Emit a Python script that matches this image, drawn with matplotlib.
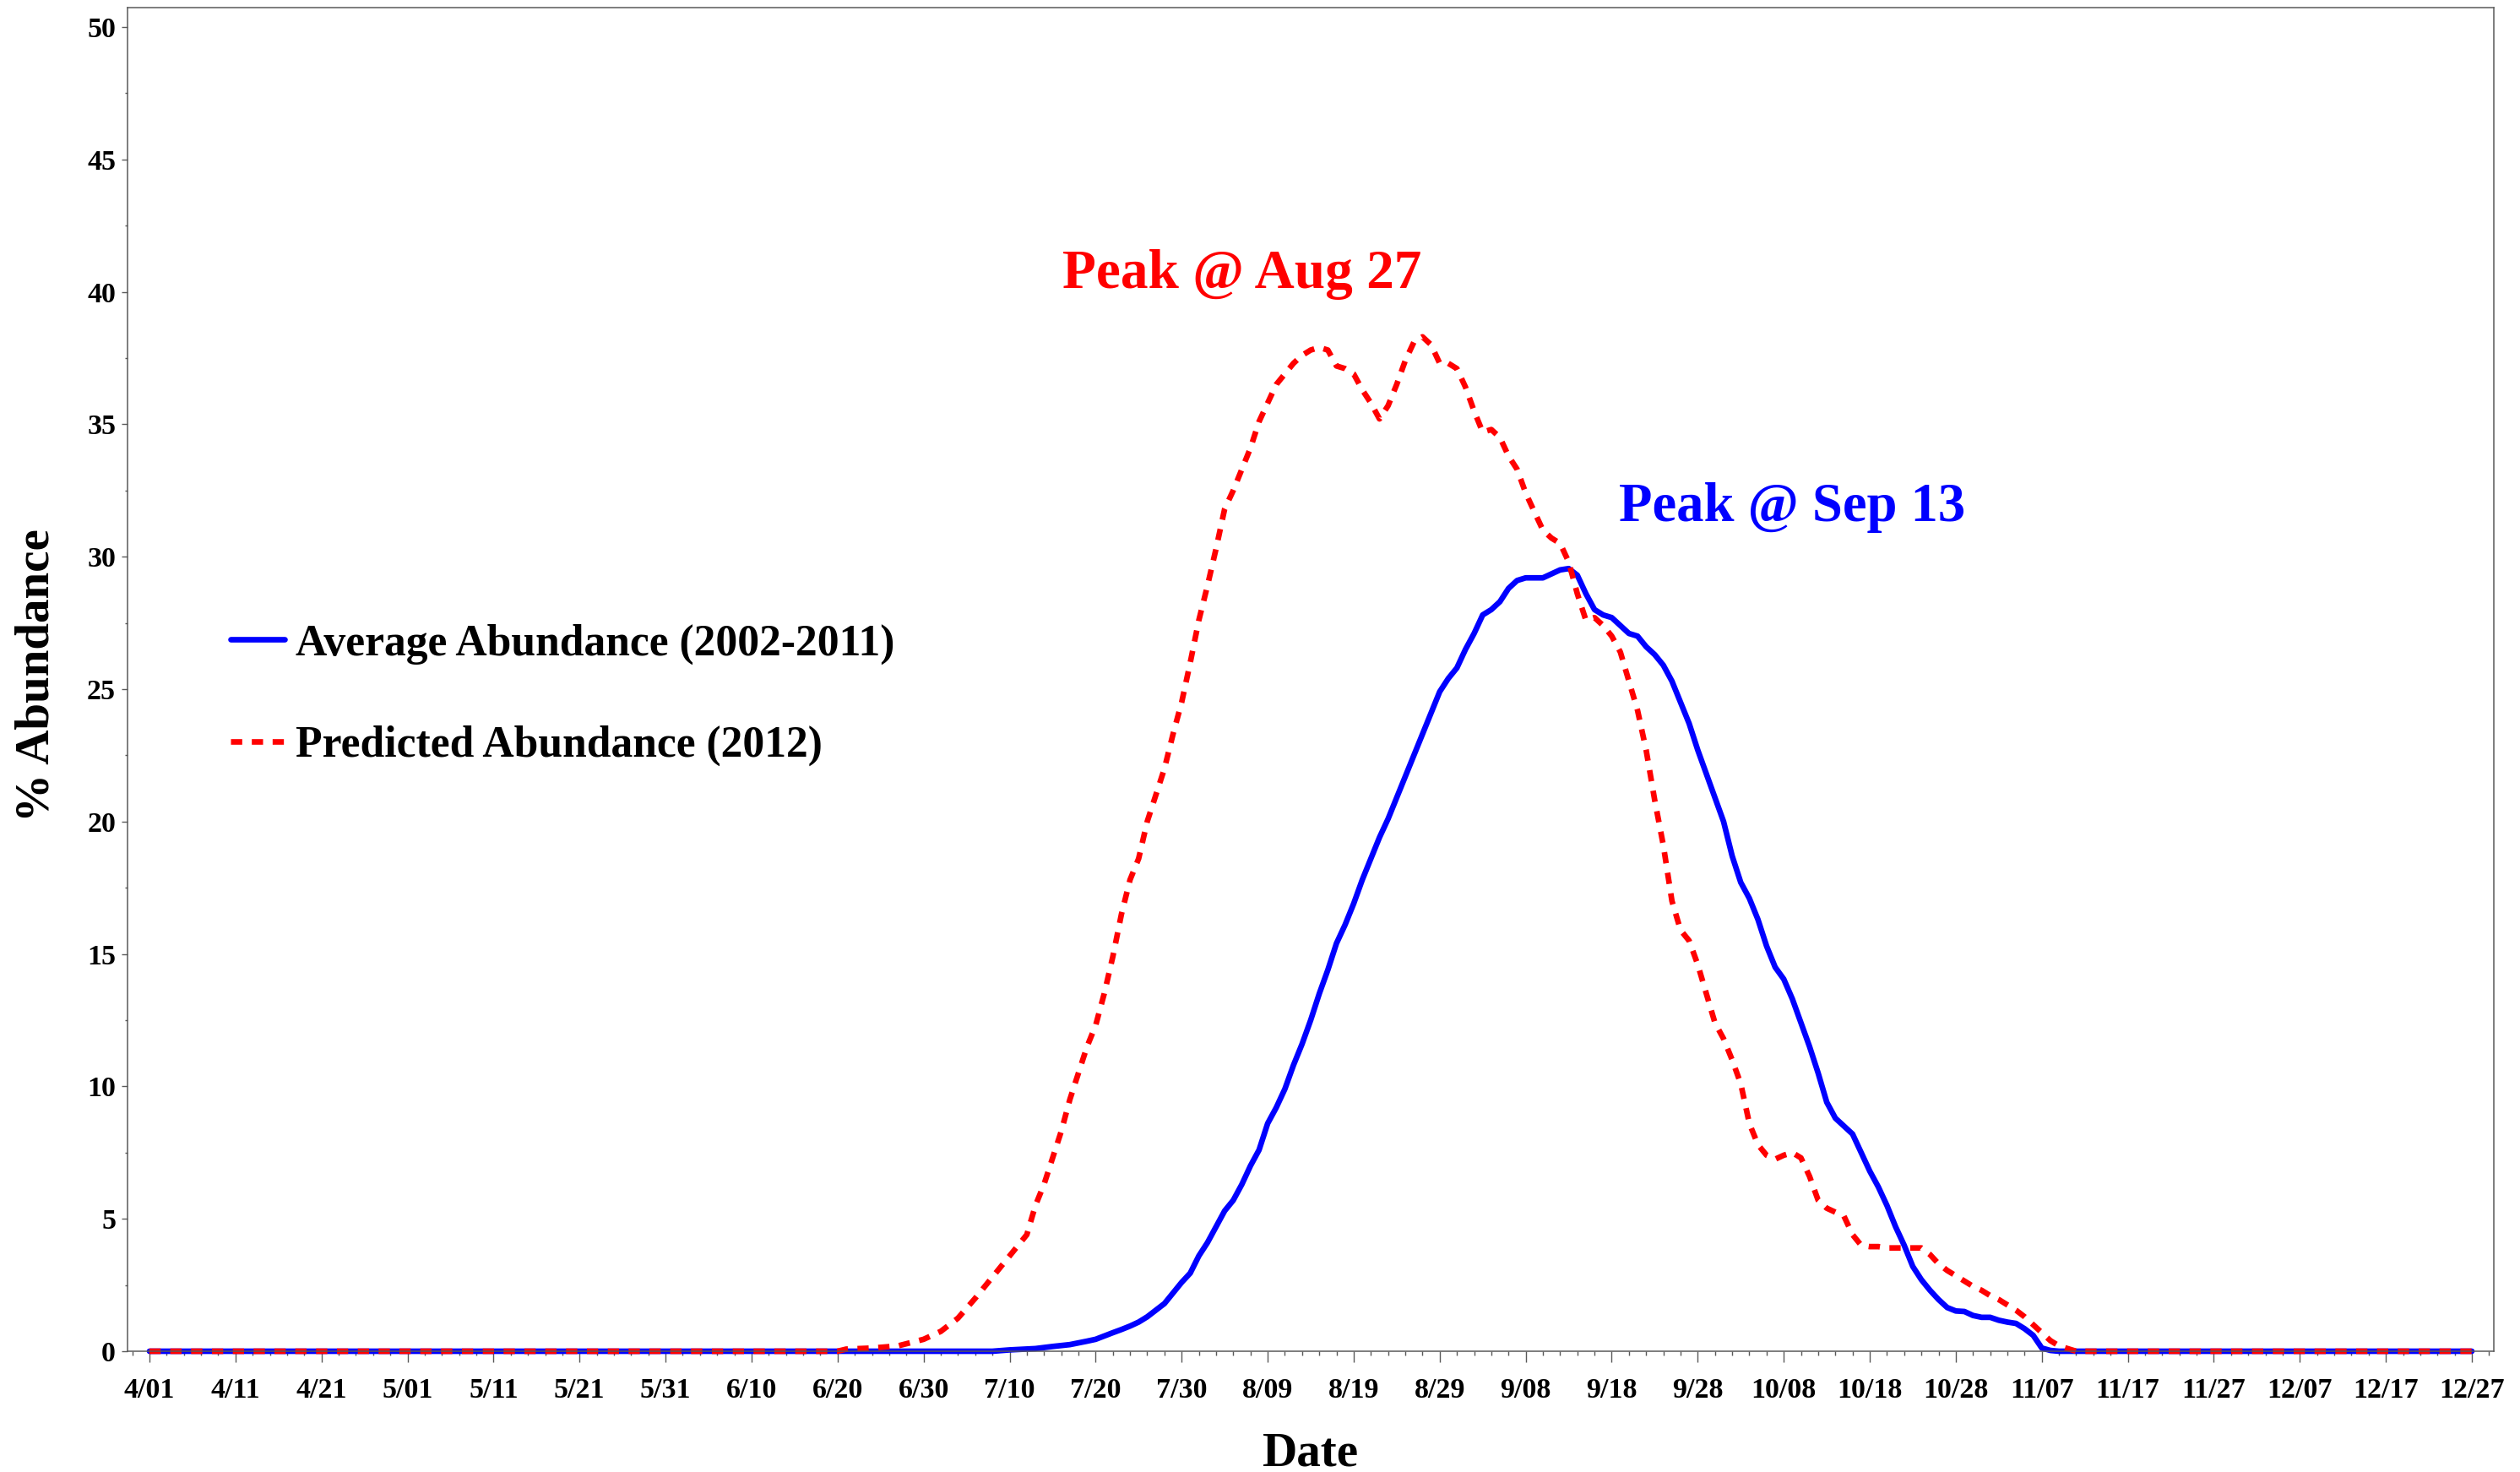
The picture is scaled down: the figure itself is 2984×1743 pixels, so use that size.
import matplotlib
matplotlib.use('Agg')
import matplotlib.pyplot as plt
from matplotlib.ticker import MultipleLocator

# days counted from April 1 (day 0) to December 27 (day 270)
avg_days = [0, 98, 100, 103, 105, 107, 109, 110, 112, 113, 114, 115, 116, 117, 118, 119, 120,
            121, 122, 123, 124, 125, 126, 127, 128, 129, 130, 131, 132, 133, 134, 135, 136,
            137, 138, 139, 140, 141, 142, 143, 144, 145, 146, 147, 148, 149, 150, 151, 152,
            153, 154, 155, 156, 157, 158, 159, 160, 161, 162, 163, 164, 165, 166, 167, 168,
            169, 170, 171, 172, 173, 174, 175, 176, 177, 178, 179, 180, 181, 182, 183, 184,
            185, 186, 187, 188, 189, 190, 191, 192, 193, 194, 195, 196, 197, 198, 199, 200,
            201, 202, 203, 204, 205, 206, 207, 208, 209, 210, 211, 212, 213, 214, 215, 216,
            217, 218, 219, 220, 221, 222, 270]
avg_vals = [0, 0, 0.05, 0.1, 0.18, 0.25, 0.38, 0.45, 0.7, 0.82, 0.95, 1.1, 1.3, 1.55, 1.8, 2.2, 2.6,
            2.95, 3.6, 4.1, 4.7, 5.3, 5.7, 6.3, 7.0, 7.6, 8.6, 9.2, 9.9, 10.8, 11.6, 12.5, 13.5,
            14.4, 15.4, 16.1, 16.9, 17.8, 18.6, 19.4, 20.1, 20.9, 21.7, 22.5, 23.3, 24.1, 24.9, 25.4, 25.8,
            26.5, 27.1, 27.8, 28.0, 28.3, 28.8, 29.1, 29.2, 29.2, 29.2, 29.35, 29.5, 29.55, 29.3, 28.6, 28.0,
            27.8, 27.7, 27.4, 27.1, 27.0, 26.6, 26.3, 25.9, 25.3, 24.5, 23.7, 22.7, 21.8, 20.9, 20.0, 18.7,
            17.7, 17.1, 16.3, 15.3, 14.5, 14.05, 13.3, 12.4, 11.5, 10.5, 9.4, 8.8, 8.5, 8.2, 7.5, 6.8,
            6.2, 5.5, 4.7, 4.0, 3.2, 2.7, 2.3, 1.95, 1.65, 1.52, 1.5, 1.35, 1.28, 1.28, 1.17, 1.1,
            1.05, 0.85, 0.6, 0.12, 0.03, 0, 0]

pred_days = [0, 80, 81, 84, 87, 90, 92, 94, 96, 99, 101, 102, 103, 104, 106, 107, 109, 110, 111,
             112, 113, 114, 115, 116, 117, 118, 119, 120, 121, 122, 123, 124, 125, 126, 127, 128,
             129, 130, 131, 132, 133, 134, 135, 136, 137, 138, 139, 140, 141, 142, 143, 144, 145,
             146, 147, 148, 149, 150, 151, 152, 153, 154, 155, 156, 157, 158, 159, 160, 161, 162,
             163, 164, 165, 166, 167, 168, 169, 170, 171, 172, 173, 174, 175, 176, 177, 178, 179,
             180, 181, 182, 183, 184, 185, 186, 187, 188, 189, 190, 191, 192, 193, 194, 195, 196,
             197, 198, 199, 200, 201, 202, 203, 204, 205, 206, 207, 208, 209, 210, 211, 212, 213,
             214, 215, 216, 217, 218, 219, 220, 221, 222, 223, 224, 270]
pred_vals = [0, 0, 0.08, 0.12, 0.2, 0.45, 0.75, 1.25, 2.0, 3.2, 4.0, 4.4, 5.5, 6.3, 8.3, 9.5, 11.5, 12.3, 13.5,
             14.9, 16.5, 17.8, 18.6, 20.0, 21.0, 22.0, 23.3, 24.5, 26.0, 27.6, 28.9, 30.3, 31.8, 32.5, 33.3, 34.1,
             35.1, 35.8, 36.5, 36.9, 37.3, 37.6, 37.8, 37.9, 37.8, 37.2, 37.1, 36.9, 36.3, 35.8, 35.2, 35.7, 36.5,
             37.4, 38.1, 38.3, 38.0, 37.3, 37.3, 37.1, 36.4, 35.5, 34.7, 34.8, 34.5, 33.8, 33.3, 32.4, 31.7, 31.0,
             30.7, 30.5, 29.8, 28.6, 27.6, 27.7, 27.4, 27.0, 26.4, 25.3, 24.2, 22.7, 20.8, 19.1, 17.0, 15.9, 15.5,
             14.6, 13.5, 12.4, 11.8, 11.0, 10.1, 8.6, 7.8, 7.4, 7.25, 7.4, 7.5, 7.3, 6.6, 5.7, 5.4, 5.25,
             5.1, 4.4, 4.0, 3.95, 3.95, 3.9, 3.9, 3.9, 3.9, 3.9, 3.65, 3.3, 3.05, 2.85, 2.65, 2.45, 2.3,
             2.1, 1.95, 1.75, 1.55, 1.3, 1.0, 0.7, 0.4, 0.2, 0.1, 0, 0]

tick_days = list(range(0, 271, 10))
tick_labels = ['4/01', '4/11', '4/21', '5/01', '5/11', '5/21', '5/31', '6/10', '6/20', '6/30',
               '7/10', '7/20', '7/30', '8/09', '8/19', '8/29', '9/08', '9/18', '9/28', '10/08',
               '10/18', '10/28', '11/07', '11/17', '11/27', '12/07', '12/17', '12/27']

plt.rcParams['font.family'] = ['Liberation Serif', 'DejaVu Serif']
plt.rcParams['font.weight'] = 'bold'

fig = plt.figure(figsize=(29.84, 17.43), dpi=100)
ax = fig.add_axes([151 / 2984, 143 / 1743, (2953 - 151) / 2984, (1600 - 9) / 1743])

ax.plot(avg_days, avg_vals, color='#0000ff', lw=4.8, solid_capstyle='round',
        solid_joinstyle='round', clip_on=False, label='Average Abundance (2002-2011)')
ax.plot(pred_days, pred_vals, color='#ff0000', lw=4.8, linestyle=(0, (2.0, 1.7)),
        dash_capstyle='butt', clip_on=False, label='Predicted Abundance (2012)')

ax.set_xlim(-2.55, 272.55)
ax.set_ylim(0, 50.73)

ax.set_xticks(tick_days)
ax.set_xticklabels(tick_labels)
ax.xaxis.set_minor_locator(MultipleLocator(2))
ax.yaxis.set_major_locator(MultipleLocator(5))
ax.yaxis.set_minor_locator(MultipleLocator(2.5))

spine_col = '#5a5a5a'
for s in ax.spines.values():
    s.set_color(spine_col)
    s.set_linewidth(1.1)

ax.tick_params(axis='x', which='major', length=9.1, width=1.0, color=spine_col,
               labelsize=24.5, pad=13)
ax.tick_params(axis='x', which='minor', length=3.8, width=1.0, color=spine_col)
ax.tick_params(axis='y', which='major', length=5, width=1.0, color=spine_col,
               labelsize=24.5, pad=5)
ax.tick_params(axis='y', which='minor', length=2, width=1.0, color=spine_col)
for lab in ax.get_xticklabels() + ax.get_yticklabels():
    lab.set_fontweight('bold')

ax.set_xlabel('Date', fontsize=41, fontweight='bold', va='center')
ax.xaxis.set_label_coords(0.5, -0.0765)
ax.set_ylabel('% Abundance', fontsize=41, fontweight='bold', va='center')
ax.yaxis.set_label_coords(-0.0382, 0.503)

ax.text(106.1, 40.15, 'Peak @ Aug 27', color='#ff0000', fontsize=47,
        fontweight='bold', ha='left', va='baseline')
ax.text(170.8, 31.35, 'Peak @ Sep 13', color='#0000ff', fontsize=46.5,
        fontweight='bold', ha='left', va='baseline')

leg = ax.legend(loc='center left', bbox_to_anchor=(273 / 2984, 1 - 823 / 1743),
                bbox_transform=fig.transFigure, frameon=False, fontsize=37.2,
                handlelength=1.24, handletextpad=0.26, labelspacing=1.4,
                borderpad=0, borderaxespad=0)
for t in leg.get_texts():
    t.set_fontweight('bold')

fig.savefig('out.png', dpi=100)
plt.close(fig)
